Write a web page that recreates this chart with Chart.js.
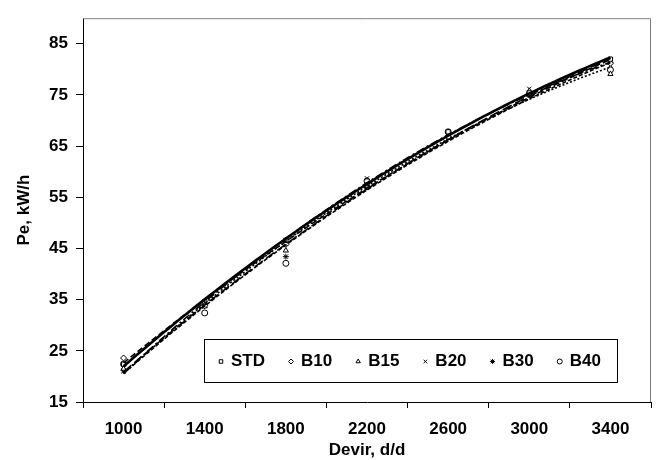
<!DOCTYPE html>
<html>
<head>
<meta charset="utf-8">
<script src="https://cdn.jsdelivr.net/npm/chart.js@4/dist/chart.umd.min.js"></script>
<style>
  html, body { margin: 0; padding: 0; background: #fff; }
  #wrap { position: relative; width: 656px; height: 460px; }
</style>
</head>
<body>
<div id="wrap"><canvas id="chartPe"></canvas></div>
<script>
(function () {
    'use strict';

    /* ── Datos ──────────────────────────────────────────── */
    var XLABELS = ['1000', '1400', '1800', '2200', '2600', '3000', '3400'];
    var RPM     = [1000, 1400, 1800, 2200, 2600, 3000, 3400];
    var Y_TICKS = [15, 25, 35, 45, 55, 65, 75, 85];

    var STD = [22.4, 34.6, 46.6, 57.4, 67.8, 75.4, 82.0];
    var B10 = [23.6, 33.8, 45.8, 57.0, 66.8, 75.2, 81.2];
    var B15 = [21.5, 33.7, 44.6, 57.4, 67.2, 75.8, 79.1];
    var B20 = [21.0, 34.4, 46.0, 58.7, 66.6, 76.2, 80.8];
    var B30 = [21.2, 34.6, 43.4, 57.4, 67.0, 75.4, 81.4];
    var B40 = [22.4, 32.4, 42.1, 58.2, 67.8, 75.1, 79.9];

    var SERIES = [
        { label: 'STD', values: STD, marker: 'rect',      dash: [],           width: 2.6 },
        { label: 'B10', values: B10, marker: 'rectRot',   dash: [6, 3],       width: 1.6 },
        { label: 'B15', values: B15, marker: 'triangle',  dash: [2, 2],       width: 1.6 },
        { label: 'B20', values: B20, marker: 'crossRot',  dash: [8, 3, 2, 3], width: 1.6 },
        { label: 'B30', values: B30, marker: 'star',      dash: [10, 4],      width: 1.6 },
        { label: 'B40', values: B40, marker: 'circle',    dash: [4, 2],       width: 1.6 }
    ];

    var BLACK = '#000000';
    var GRAY  = '#808080';
    var FONT  = '"Liberation Sans", Arial, sans-serif';
    var FSIZE = 17;

    /* ── Línea de tendencia polinómica (orden 2) ─────────── */
    function polyFit2(xs, ys) {
        // t normalizado para evitar mal condicionamiento
        var n = xs.length, s = [0, 0, 0, 0, 0], b = [0, 0, 0];
        for (var i = 0; i < n; i++) {
            var t = (xs[i] - 2200) / 400, p = 1;
            for (var k = 0; k < 5; k++) { s[k] += p; if (k < 3) b[k] += p * ys[i]; p *= t; }
        }
        var m = [[s[0], s[1], s[2]], [s[1], s[2], s[3]], [s[2], s[3], s[4]]];
        function det(a) {
            return a[0][0] * (a[1][1] * a[2][2] - a[1][2] * a[2][1]) -
                   a[0][1] * (a[1][0] * a[2][2] - a[1][2] * a[2][0]) +
                   a[0][2] * (a[1][0] * a[2][1] - a[1][1] * a[2][0]);
        }
        var d = det(m), c = [];
        for (var j = 0; j < 3; j++) {
            var mj = m.map(function (row, r) { var rr = row.slice(); rr[j] = b[r]; return rr; });
            c.push(det(mj) / d);
        }
        return function (x) { var t = (x - 2200) / 400; return c[0] + c[1] * t + c[2] * t * t; };
    }

    function trendPoints(values) {
        var f = polyFit2(RPM, values), pts = [];
        var x0 = RPM[0], x1 = RPM[RPM.length - 1];
        for (var x = x0; x <= x1; x += 25) pts.push({ x: x, y: f(x) });
        return pts;
    }

    /* ── Datasets ────────────────────────────────────────── */
    var datasets = [];
    SERIES.forEach(function (s) {
        datasets.push({
            type: 'line',
            label: s.label,
            data: RPM.map(function (x, i) { return { x: x, y: s.values[i] }; }),
            xAxisID: 'xl',
            showLine: false,
            pointStyle: s.marker,
            pointRadius: 3,
            pointBorderWidth: 1,
            pointBorderColor: BLACK,
            pointBackgroundColor: '#ffffff',
            order: 2
        });
        datasets.push({
            type: 'line',
            label: s.label + ' trend',
            data: trendPoints(s.values),
            xAxisID: 'xl',
            borderColor: BLACK,
            borderWidth: s.width,
            borderDash: s.dash,
            pointRadius: 0,
            fill: false,
            tension: 0,
            order: 1
        });
    });

    /* ── Plugin: marco gris y leyenda dentro del área ────── */
    var framePlugin = {
        id: 'frameLegend',
        afterDraw: function (chart) {
            var ctx = chart.ctx, a = chart.chartArea;
            ctx.save();
            ctx.strokeStyle = GRAY;
            ctx.lineWidth = 1;
            ctx.beginPath();
            ctx.moveTo(a.left, a.top + 0.5);
            ctx.lineTo(a.right - 0.5, a.top + 0.5);
            ctx.lineTo(a.right - 0.5, a.bottom);
            ctx.stroke();

            // leyenda
            var bx = a.left + 121, by = a.bottom - 63, bw = 413, bh = 43;
            ctx.fillStyle = '#ffffff';
            ctx.fillRect(bx, by, bw, bh);
            ctx.strokeStyle = BLACK;
            ctx.strokeRect(bx + 0.5, by + 0.5, bw, bh);

            ctx.font = 'bold ' + FSIZE + 'px ' + FONT;
            ctx.textBaseline = 'middle';
            ctx.textAlign = 'left';
            var cy = by + bh / 2 + 1, x = bx + 17;
            SERIES.forEach(function (s) {
                ctx.strokeStyle = BLACK;
                ctx.fillStyle = '#ffffff';
                ctx.lineWidth = 1;
                Chart.helpers.drawPoint(ctx, { pointStyle: s.marker, radius: 2.5, rotation: 0, borderWidth: 1 }, x, cy);
                ctx.fillStyle = BLACK;
                ctx.fillText(s.label, x + 10, cy);
                x += 10 + ctx.measureText(s.label).width + 26;
            });
            ctx.restore();
        }
    };

    new Chart(document.getElementById('chartPe'), {
        data: { labels: XLABELS, datasets: datasets },
        plugins: [framePlugin],
        options: {
            responsive: true,
            maintainAspectRatio: false,
            animation: false,
            layout: { padding: { top: 8, right: 4, left: 0, bottom: 0 } },
            plugins: {
                legend: { display: false },
                tooltip: { enabled: false }
            },
            scales: {
                x: {
                    type: 'category',
                    labels: XLABELS,
                    offset: true,
                    grid: { offset: true, drawOnChartArea: false, drawTicks: true, tickLength: 6, color: BLACK },
                    border: { color: BLACK, width: 1 },
                    ticks: { color: BLACK, padding: 11, maxRotation: 0, font: { family: FONT, size: FSIZE, weight: 'bold' } },
                    title: {
                        display: true, text: 'Devir, d/d', color: BLACK,
                        padding: { top: 0, bottom: -1 },
                        font: { family: FONT, size: FSIZE, weight: 'bold' }
                    },
                    afterFit: function (scale) { scale.height = 58; }
                },
                xl: {
                    type: 'linear',
                    display: false,
                    min: 800,
                    max: 3600
                },
                y: {
                    type: 'linear',
                    min: 15,
                    max: 90,
                    afterBuildTicks: function (scale) {
                        scale.ticks = Y_TICKS.map(function (v) { return { value: v }; });
                    },
                    grid: { drawOnChartArea: false, drawTicks: true, tickLength: 7, color: BLACK },
                    border: { color: BLACK, width: 1 },
                    ticks: { color: BLACK, padding: 8, font: { family: FONT, size: FSIZE, weight: 'bold' } },
                    title: {
                        display: true, text: 'Pe, kW/h', color: BLACK,
                        padding: { top: 14, bottom: 0 },
                        font: { family: FONT, size: FSIZE, weight: 'bold' }
                    },
                    afterFit: function (scale) { scale.width = 83; }
                }
            }
        }
    });
})();
</script>
</body>
</html>
